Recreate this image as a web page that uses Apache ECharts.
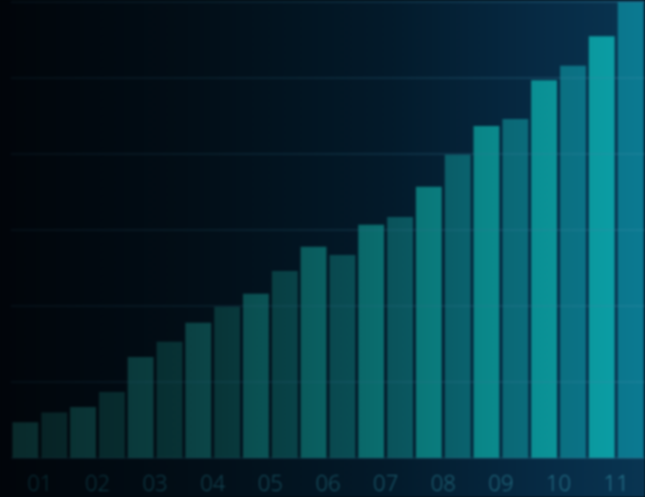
<!DOCTYPE html>
<html>
<head>
<meta charset="utf-8">
<script src="https://cdn.jsdelivr.net/npm/echarts@6/dist/echarts.min.js"></script>
<style>
html,body{margin:0;padding:0;background:#01060a;}
#c{width:645px;height:497px;filter:blur(0.8px);}
</style>
</head>
<body>
<div id="c"></div>
<script>
var categories = ['01','02','03','04','05','06','07','08','09','10','11'];
var seriesA = [4.7, 6.7, 13.3, 17.8, 21.6, 27.8, 30.7, 35.7, 43.7, 49.7, 55.5];
var seriesB = [6.0, 8.7, 15.3, 19.9, 24.6, 26.7, 31.7, 39.9, 44.6, 51.6, 61.0];
var yTicks = [0, 10, 20, 30, 40, 50, 60];

var G = echarts.graphic.LinearGradient;
var chart = echarts.init(document.getElementById('c'), null, {renderer:'canvas'});

function lerpColor(a, b, t){
  var pa = [parseInt(a.substr(1,2),16), parseInt(a.substr(3,2),16), parseInt(a.substr(5,2),16)];
  var pb = [parseInt(b.substr(1,2),16), parseInt(b.substr(3,2),16), parseInt(b.substr(5,2),16)];
  var r = pa.map(function(v,i){return Math.round(v + (pb[i]-v)*t);});
  return 'rgb(' + r.join(',') + ')';
}

chart.setOption({
  animation: false,
  backgroundColor: new G(0, 0, 645, 0, [
    {offset: 0, color: '#01050a'},
    {offset: 0.3, color: '#020e17'},
    {offset: 0.6, color: '#031a2a'},
    {offset: 0.85, color: '#072b45'},
    {offset: 1, color: '#093552'}
  ], true),
  grid: {left: 11, right: 0, top: 2, bottom: 39},
  xAxis: {
    type: 'category',
    data: categories,
    axisLine: {show: false},
    axisTick: {show: false},
    axisLabel: {
      fontSize: 22,
      fontFamily: 'Open Sans',
      fontWeight: 300,
      margin: 16,
      color: function(v, i){ return lerpColor('#0a323b', '#2a7f96', i/10); }
    }
  },
  yAxis: {
    type: 'value',
    min: 0, max: 60, interval: 10,
    z: 3,
    axisLine: {show: false},
    axisTick: {show: false},
    axisLabel: {show: false},
    splitLine: {
      lineStyle: {
        width: 1.5,
        color: new G(0, 0, 645, 0, [
          {offset: 0, color: 'rgba(30,70,90,0.18)'},
          {offset: 0.5, color: 'rgba(40,100,125,0.28)'},
          {offset: 1, color: 'rgba(60,140,170,0.35)'}
        ], true)
      }
    }
  },
  series: [
    {
      type: 'bar',
      data: seriesA,
      barCategoryGap: '5%',
      barGap: '12%',
      itemStyle: {
        color: new G(0, 0, 645, 0, [
          {offset: 0, color: '#092829'},
          {offset: 0.3, color: '#0b4244'},
          {offset: 0.57, color: '#0a6a6b'},
          {offset: 0.75, color: '#0a8789'},
          {offset: 1, color: '#0ca2aa'}
        ], true)
      }
    },
    {
      type: 'bar',
      data: seriesB,
      itemStyle: {
        color: new G(0, 0, 645, 0, [
          {offset: 0, color: '#071f21'},
          {offset: 0.35, color: '#083639'},
          {offset: 0.62, color: '#0a555d'},
          {offset: 0.8, color: '#0b6a78'},
          {offset: 1, color: '#0b7a92'}
        ], true)
      }
    }
  ]
});
</script>
</body>
</html>
